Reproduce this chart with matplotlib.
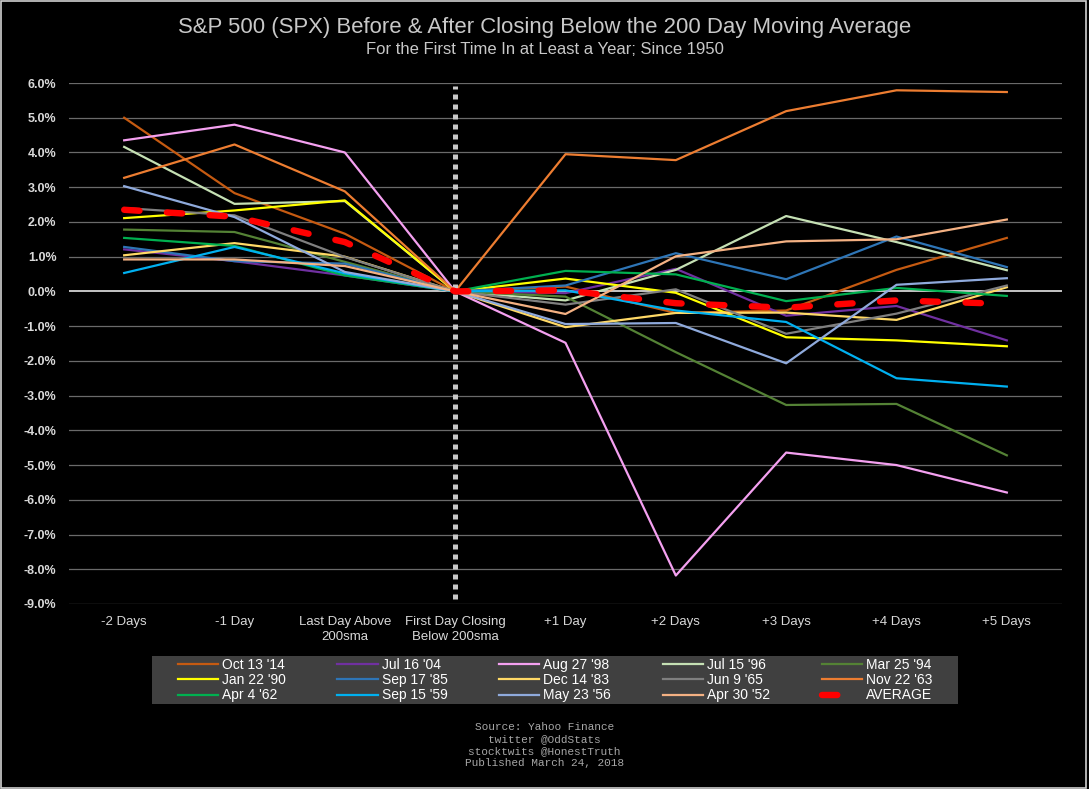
import numpy as np
import matplotlib
matplotlib.use('Agg')
import matplotlib.pyplot as plt
from matplotlib.patches import Rectangle

plt.rcParams['font.family'] = ['Liberation Sans', 'DejaVu Sans']

# categories on the x axis
categories = ['-2 Days', '-1 Day', 'Last Day Above\n200sma', 'First Day Closing\nBelow 200sma',
              '+1 Day', '+2 Days', '+3 Days', '+4 Days', '+5 Days']

# % change relative to the first close below the 200sma
oct14 = [5.00, 2.83, 1.66, 0, 0.14, -0.62, -0.55, 0.62, 1.54]
jul04 = [1.21, 0.87, 0.46, 0, -0.05, 0.65, -0.70, -0.42, -1.41]
aug98 = [4.35, 4.80, 4.00, 0, -1.48, -8.18, -4.64, -5.00, -5.79]
jul96 = [4.16, 2.52, 2.60, 0, -0.26, 0.62, 2.17, 1.42, 0.61]
mar94 = [1.78, 1.71, 0.85, 0, -0.15, -1.75, -3.27, -3.24, -4.72]
jan90 = [2.11, 2.33, 2.62, 0, 0.37, -0.04, -1.32, -1.41, -1.58]
sep85 = [1.28, 0.87, 0.80, 0, 0.17, 1.10, 0.35, 1.58, 0.70]
dec83 = [1.04, 1.39, 1.00, 0, -1.03, -0.62, -0.61, -0.82, 0.12]
jun65 = [2.40, 2.19, 0.99, 0, -0.38, 0.06, -1.22, -0.64, 0.17]
nov63 = [3.27, 4.23, 2.88, 0, 3.95, 3.78, 5.19, 5.79, 5.74]
apr62 = [1.54, 1.31, 0.46, 0, 0.59, 0.49, -0.28, 0.10, -0.13]
sep59 = [0.53, 1.28, 0.52, 0, 0.03, -0.55, -0.88, -2.50, -2.74]
may56 = [3.03, 2.14, 0.56, 0, -0.94, -0.91, -2.07, 0.19, 0.38]
apr52 = [0.92, 0.92, 0.73, 0, -0.65, 1.01, 1.44, 1.50, 2.07]
average = [2.35, 2.15, 1.42, 0, 0.03, -0.34, -0.47, -0.26, -0.36]

labels = ["Oct 13 '14", "Jul 16 '04", "Aug 27 '98", "Jul 15 '96", "Mar 25 '94",
          "Jan 22 '90", "Sep 17 '85", "Dec 14 '83", "Jun 9 '65", "Nov 22 '63",
          "Apr 4 '62", "Sep 15 '59", "May 23 '56", "Apr 30 '52"]
series = [oct14, jul04, aug98, jul96, mar94, jan90, sep85, dec83, jun65, nov63,
          apr62, sep59, may56, apr52]
colors = ['#C55A11', '#7030A0', '#F4A0F0', '#C5E0B4', '#548235',
          '#FFFF00', '#2E75B6', '#FFD966', '#7F7F7F', '#ED7D31',
          '#00B050', '#00B0F0', '#8FAADC', '#F4B183']

yticks = np.arange(-9, 7, 1)

fig = plt.figure(figsize=(10.89, 7.89), dpi=100, facecolor='black')
ax = fig.add_axes([69 / 1089, 1 - 604 / 789, (1062 - 69) / 1089, (604 - 83) / 789])
ax.set_facecolor('black')

x = np.arange(len(categories))

# grid lines + zero line
for t in yticks:
    if t == 0:
        continue
    ax.axhline(t, color='#6a6a6a', lw=0.9, zorder=0)
ax.axhline(0, color='#e6e6e6', lw=1.2, zorder=1)

handles = []
for s, lab, c in zip(series, labels, colors):
    h, = ax.plot(x, s, color=c, lw=1.6, label=lab, zorder=2)
    handles.append(h)

# vertical dotted marker at the first close below the 200sma
ax.vlines(3, -8.85, 5.9, colors='#c8c8c8', lw=3.6, linestyles=(0, (1, 1)), zorder=3)

h_avg, = ax.plot(x, average, color='#FF0000', lw=4.6, dashes=(2.4, 4.3),
                 dash_capstyle='round', label='AVERAGE', zorder=4)
handles.append(h_avg)

ax.set_xlim(-0.5, len(categories) - 0.5)
ax.set_ylim(-9, 6)
ax.set_xticks(x)
ax.set_xticklabels(categories, color='#d9d9d9', fontsize=9.5, linespacing=1.3)
ax.set_yticks(yticks)
ax.set_yticklabels(['%.1f%%' % t for t in yticks], color='#d9d9d9', fontsize=9,
                   fontweight='bold')
ax.tick_params(axis='both', length=0)
ax.tick_params(axis='y', pad=9)
ax.tick_params(axis='x', pad=9)
for sp in ax.spines.values():
    sp.set_visible(False)

fig.text(0.5, 1 - 28 / 789, 'S&P 500 (SPX) Before & After Closing Below the 200 Day Moving Average',
         ha='center', va='center', color='#c8c8c8', fontsize=15.9)
fig.text(0.5, 1 - 50 / 789, 'For the First Time In at Least a Year; Since 1950',
         ha='center', va='center', color='#c8c8c8', fontsize=12)

# legend panel
fig.patches.append(Rectangle((152 / 1089, 1 - 704 / 789), (958 - 152) / 1089, 48 / 789,
                             transform=fig.transFigure, facecolor='#404040',
                             edgecolor='none', zorder=0))

# legend filled row by row (5 columns x 3 rows)
ncol, nrow = 5, 3
order = [handles[r * ncol + c] for c in range(ncol) for r in range(nrow)]
leg = fig.legend(order, [h.get_label() for h in order], ncol=ncol, loc='center',
                 bbox_to_anchor=(555 / 1089, 1 - 680 / 789), frameon=False,
                 fontsize=10, handlelength=2.9, handletextpad=0.3, columnspacing=3.7,
                 labelspacing=0.1, borderpad=0.2)
for t in leg.get_texts():
    t.set_color('white')

footer = 'Source: Yahoo Finance\ntwitter @OddStats\nstocktwits @HonestTruth\nPublished March 24, 2018'
fig.text(0.5, 1 - 745 / 789, footer, ha='center', va='center', color='#a6a6a6',
         fontsize=8, family='Liberation Mono', linespacing=1.25)

# thin light frame round the picture
fig.patches.append(Rectangle((0.0005, 0.001), 0.997, 0.998, transform=fig.transFigure,
                             fill=False, edgecolor='#d0d0d0', lw=1.2))

fig.savefig('out.png', dpi=100, facecolor='black')
